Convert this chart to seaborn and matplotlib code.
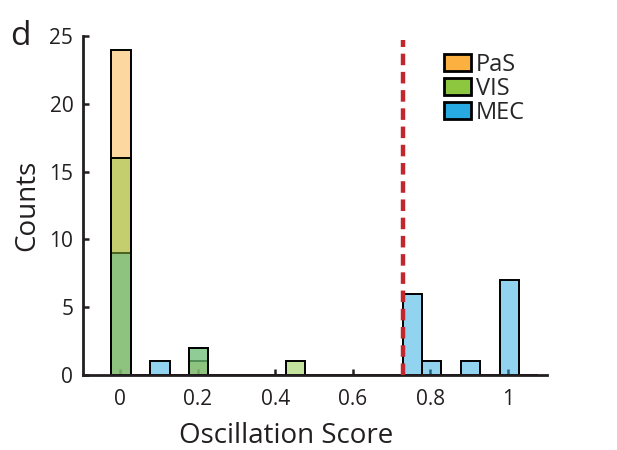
import pandas as pd
import matplotlib
matplotlib.use("Agg")
import matplotlib.pyplot as plt
from matplotlib.patches import Patch
import seaborn as sns

# bin centres and counts per region
PAS_SCORE = [0.0, 0.2]
PAS_COUNT = [24, 1]
MEC_SCORE = [0.0, 0.1, 0.2, 0.75, 0.8, 0.9, 1.0]
MEC_COUNT = [9, 1, 2, 6, 1, 1, 7]
VIS_SCORE = [0.0, 0.2, 0.45]
VIS_COUNT = [16, 2, 1]

THRESHOLD = 0.728
X_TICKS = [0, 0.2, 0.4, 0.6, 0.8, 1]
X_TICKLABELS = ["0", "0.2", "0.4", "0.6", "0.8", "1"]
Y_TICKS = [0, 5, 10, 15, 20, 25]

COLORS = {"PaS": "#fbb040", "VIS": "#8dc63f", "MEC": "#27aae1"}
INK = "#231f20"

sns.set_theme(style="ticks")
plt.rcParams["font.family"] = ["Open Sans", "DejaVu Sans"]

fig = plt.figure(figsize=(6.17, 4.5), dpi=100)
ax = fig.add_axes([0.1345, 0.1667, 0.752, 0.7533])

# layered in the same order as the original (PaS, MEC, then VIS on top)
for name, xs, ws in [("PaS", PAS_SCORE, PAS_COUNT),
                     ("MEC", MEC_SCORE, MEC_COUNT),
                     ("VIS", VIS_SCORE, VIS_COUNT)]:
    df = pd.DataFrame({"score": xs, "count": ws})
    sns.histplot(data=df, x="score", weights="count",
                 binwidth=0.05, binrange=(-0.022, 1.078),
                 color=COLORS[name], alpha=0.5, edgecolor="black",
                 linewidth=1.4, ax=ax)

ax.plot([THRESHOLD, THRESHOLD], [0, 24.7], color="#c1272d", lw=3.2,
        dashes=(2.6, 1.5), solid_capstyle="round", zorder=5,
        clip_on=False)

ax.set_xlim(-0.095, 1.1)
ax.set_ylim(0, 25)
ax.set_xticks(X_TICKS)
ax.set_xticklabels(X_TICKLABELS)
ax.set_yticks(Y_TICKS)
ax.tick_params(direction="in", length=4, width=1.8, labelsize=15,
               color=INK, labelcolor=INK)
ax.tick_params(axis="x", pad=10)
ax.tick_params(axis="y", pad=7)
for side in ["top", "right"]:
    ax.spines[side].set_visible(False)
for side in ["left", "bottom"]:
    ax.spines[side].set_linewidth(2)
    ax.spines[side].set_color(INK)

ax.set_xlabel("Oscillation Score", fontsize=20, color=INK)
ax.xaxis.set_label_coords(0.437, -0.14)
ax.set_ylabel("Counts", fontsize=20, color=INK, labelpad=6)

handles = [Patch(facecolor=COLORS[n], edgecolor="black", linewidth=2)
           for n in ["PaS", "VIS", "MEC"]]
ax.legend(handles, ["PaS", "VIS", "MEC"], loc="upper right",
          bbox_to_anchor=(0.952, 0.95), frameon=False, fontsize=17,
          handlelength=1.15, handleheight=0.75, handletextpad=0.2,
          labelspacing=0.0, borderaxespad=0, borderpad=0)

fig.text(0.016, 0.9, "d", fontsize=24, color=INK)

fig.savefig("out.png", dpi=100)
